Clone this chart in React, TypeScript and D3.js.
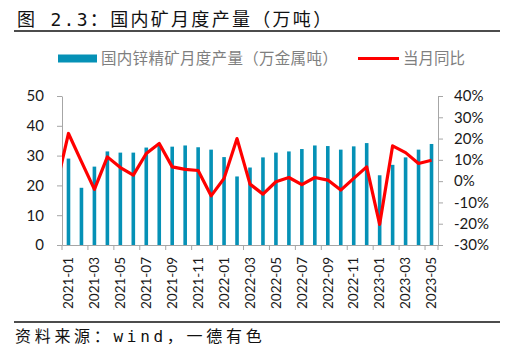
import { useRef, useEffect } from 'react';
import * as d3 from 'd3';

const WIDTH = 506;
const HEIGHT = 353;
const PLOT = { left: 62, right: 438, top: 96, bottom: 245 };

const MONTHS = [
  '2021-01', '2021-02', '2021-03', '2021-04', '2021-05', '2021-06', '2021-07', '2021-08',
  '2021-09', '2021-10', '2021-11', '2021-12', '2022-01', '2022-02', '2022-03', '2022-04',
  '2022-05', '2022-06', '2022-07', '2022-08', '2022-09', '2022-10', '2022-11', '2022-12',
  '2023-01', '2023-02', '2023-03', '2023-04', '2023-05',
];

// 国内锌精矿月度产量（万金属吨）
const OUTPUT = [
  29.0, 19.2, 26.3, 31.4, 31.0, 31.0, 32.7, 33.2, 33.0, 33.4, 32.8, 32.0, 29.5, 23.0, 26.0,
  29.4, 31.0, 31.4, 32.2, 33.4, 33.2, 32.0, 33.1, 34.2, 23.4, 26.9, 29.4, 32.0, 33.9,
];

// 当月同比 (%), with the 2020-12 value that leads the line in from the left edge
const YOY_PREV = -4;
const YOY = [
  22.4, 9.2, -3.9, 11.4, 6.4, 2.8, 13.0, 17.7, 6.7, 5.5, 5.0, -6.9, 1.3, 20.0, -1.4,
  -6.1, -0.3, 1.7, -1.6, 1.7, 0.5, -4.2, 1.3, 6.7, -20.3, 16.6, 13.4, 8.3, 9.8,
];

const LEFT_TICKS = [0, 10, 20, 30, 40, 50];
const RIGHT_TICKS = [-30, -20, -10, 0, 10, 20, 30, 40];

const BAR_COLOR = '#0591b6';
const LINE_COLOR = '#ff0000';
const AXIS_COLOR = '#a6a6a6';
const CJK = "'DejaVu Sans Mono', 'Noto Sans CJK SC', sans-serif";
const NUM = "Lato, 'Noto Sans', sans-serif";

export default function App() {
  const svgRef = useRef<SVGSVGElement>(null);

  useEffect(() => {
    if (!svgRef.current) return;
    const svg = d3.select(svgRef.current);
    svg.selectAll('*').remove();

    // ── Scales ──────────────────────────────────────────────────────────
    const x = d3.scaleBand<string>().domain(MONTHS).range([PLOT.left, PLOT.right]).padding(0);
    const step = x.bandwidth();
    const cx = (m: string) => x(m)! + step / 2;
    const yL = d3.scaleLinear().domain([0, 50]).range([PLOT.bottom, PLOT.top]);
    const yR = d3.scaleLinear().domain([-30, 40]).range([PLOT.bottom, PLOT.top]);

    // ── Title ───────────────────────────────────────────────────────────
    svg.append('text')
      .attr('x', 17).attr('y', 26)
      .attr('font-family', CJK).attr('font-size', 18)
      .attr('letter-spacing', 2.3)
      .attr('fill', '#111')
      .text('图 2.3：国内矿月度产量（万吨）');
    svg.append('line')
      .attr('x1', 14).attr('x2', 500).attr('y1', 31).attr('y2', 31)
      .attr('stroke', '#111').attr('stroke-width', 1.5);

    // ── Legend ──────────────────────────────────────────────────────────
    const lg = svg.append('g').attr('font-family', "'Noto Sans CJK SC', sans-serif")
      .attr('font-size', 15.5).attr('fill', '#7f7f7f');
    lg.append('rect').attr('x', 58).attr('y', 54.5).attr('width', 39).attr('height', 8)
      .attr('fill', BAR_COLOR);
    lg.append('text').attr('x', 101).attr('y', 64).attr('letter-spacing', 0.3)
      .text('国内锌精矿月度产量（万金属吨）');
    lg.append('line').attr('x1', 358).attr('x2', 399).attr('y1', 58.5).attr('y2', 58.5)
      .attr('stroke', LINE_COLOR).attr('stroke-width', 3);
    lg.append('text').attr('x', 403).attr('y', 64).text('当月同比');

    // ── Bars ────────────────────────────────────────────────────────────
    const bw = 3.6;
    svg.append('g')
      .selectAll('rect')
      .data(MONTHS)
      .join('rect')
      .attr('x', (m) => cx(m) - bw / 2)
      .attr('y', (_, i) => yL(OUTPUT[i]))
      .attr('width', bw)
      .attr('height', (_, i) => PLOT.bottom - yL(OUTPUT[i]))
      .attr('fill', BAR_COLOR);

    // ── Axes ────────────────────────────────────────────────────────────
    const left = svg.append('g').attr('transform', `translate(${PLOT.left},0)`)
      .call(d3.axisLeft(yL).tickValues(LEFT_TICKS).tickSize(5).tickPadding(13).tickSizeOuter(0));
    const right = svg.append('g').attr('transform', `translate(${PLOT.right},0)`)
      .call(d3.axisRight(yR).tickValues(RIGHT_TICKS).tickSize(5).tickPadding(11).tickSizeOuter(0)
        .tickFormat((d) => `${d}%`));
    const tickMonths = MONTHS.filter((_, i) => i % 2 === 0);
    const bottom = svg.append('g').attr('transform', `translate(0,${PLOT.bottom})`)
      .call(d3.axisBottom(x).tickValues(tickMonths).tickSize(0).tickPadding(0).tickSizeOuter(0));

    for (const a of [left, right]) {
      a.select('.domain').attr('stroke', AXIS_COLOR);
      a.selectAll('.tick line').attr('stroke', AXIS_COLOR);
      a.selectAll('text').attr('font-family', NUM).attr('font-size', 15).attr('fill', '#1a1a1a');
    }
    bottom.select('.domain').attr('stroke', AXIS_COLOR);
    bottom.selectAll('.tick text')
      .attr('font-family', NUM).attr('font-size', 13.5).attr('fill', '#1a1a1a')
      .attr('text-anchor', 'end')
      .attr('transform', 'rotate(-90)')
      .attr('x', -12).attr('y', 0).attr('dy', '0.35em');

    // x-axis ticks every two months at band boundaries
    const boundaries = MONTHS.filter((_, i) => i % 2 === 0).map((m) => x(m)!).concat([PLOT.right]);
    svg.append('g').selectAll('line').data(boundaries).join('line')
      .attr('x1', (d) => d).attr('x2', (d) => d)
      .attr('y1', PLOT.bottom).attr('y2', PLOT.bottom + 5)
      .attr('stroke', AXIS_COLOR);

    // ── YoY line ────────────────────────────────────────────────────────
    svg.append('clipPath').attr('id', 'plot-clip')
      .append('rect').attr('x', PLOT.left).attr('y', 0)
      .attr('width', PLOT.right - PLOT.left).attr('height', HEIGHT);
    const pts: [number, number][] = [[cx(MONTHS[0]) - step, yR(YOY_PREV)]]
      .concat(MONTHS.map((m, i) => [cx(m), yR(YOY[i])] as [number, number])) as [number, number][];
    svg.append('path')
      .datum(pts)
      .attr('clip-path', 'url(#plot-clip)')
      .attr('fill', 'none')
      .attr('stroke', LINE_COLOR)
      .attr('stroke-width', 3.2)
      .attr('stroke-linejoin', 'round')
      .attr('d', d3.line());

    // ── Footer ──────────────────────────────────────────────────────────
    svg.append('line')
      .attr('x1', 14).attr('x2', 500).attr('y1', 322).attr('y2', 322)
      .attr('stroke', '#111').attr('stroke-width', 1.5);
    svg.append('text')
      .attr('x', 15).attr('y', 342)
      .attr('font-family', CJK).attr('font-size', 16)
      .attr('letter-spacing', 3.7)
      .attr('fill', '#111')
      .text('资料来源：wind，一德有色');
  }, []);

  return (
    <svg
      ref={svgRef}
      width={WIDTH}
      height={HEIGHT}
      style={{ position: 'absolute', left: 0, top: 0, background: '#fff' }}
    />
  );
}
